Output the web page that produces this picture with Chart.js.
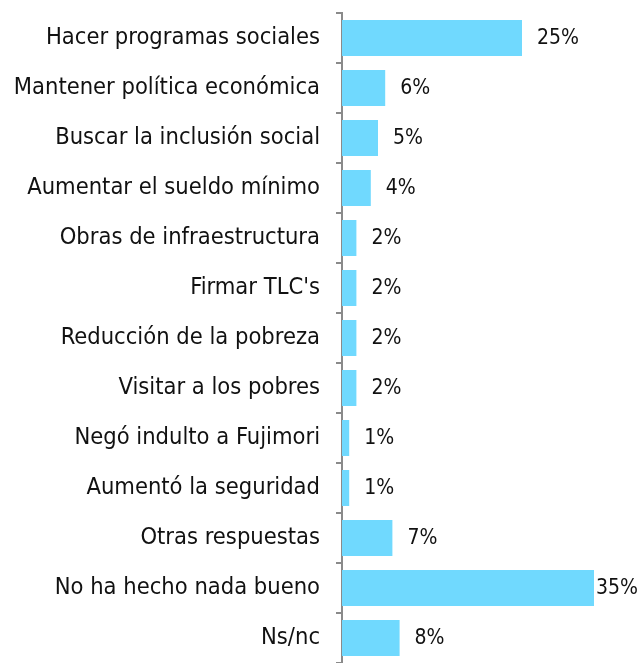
<!DOCTYPE html>
<html>
<head>
<meta charset="utf-8">
<script src="https://cdn.jsdelivr.net/npm/chart.js@4"></script>
<style>
  html, body { margin: 0; padding: 0; background: #ffffff; }
  #wrap { width: 640px; height: 663px; }
</style>
</head>
<body>
<div id="wrap"><canvas id="grafica"></canvas></div>
<script>
// Datos
const categorias = [
    'Hacer programas sociales',
    'Mantener política económica',
    'Buscar la inclusión social',
    'Aumentar el sueldo mínimo',
    'Obras de infraestructura',
    "Firmar TLC's",
    'Reducción de la pobreza',
    'Visitar a los pobres',
    'Negó indulto a Fujimori',
    'Aumentó la seguridad',
    'Otras respuestas',
    'No ha hecho nada bueno',
    'Ns/nc'
];
const valores = [25, 6, 5, 4, 2, 2, 2, 2, 1, 1, 7, 35, 8];

const fuente = "'DejaVu Sans Condensed', 'DejaVu Sans', sans-serif";

// Etiquetas de valor a la derecha de cada barra
const etiquetasValor = {
    id: 'etiquetasValor',
    afterDatasetsDraw(chart) {
        const ctx = chart.ctx;
        const meta = chart.getDatasetMeta(0);
        ctx.save();
        ctx.font = '21px ' + fuente;
        ctx.fillStyle = '#111111';
        ctx.textBaseline = 'middle';
        ctx.textAlign = 'left';
        meta.data.forEach(function(bar, i) {
            const texto = valores[i] + '%';
            const ancho = ctx.measureText(texto).width;
            let x = bar.x + 15;
            if (x + ancho > chart.width - 2) x = chart.width - 2 - ancho;
            ctx.fillText(texto, x, bar.y + 1);
        });
        ctx.restore();
    }
};

new Chart(document.getElementById('grafica').getContext('2d'), {
    type: 'bar',
    data: {
        labels: categorias,
        datasets: [{
            data: valores,
            backgroundColor: '#70D9FE',
            borderWidth: 0,
            barPercentage: 0.72,
            categoryPercentage: 1
        }]
    },
    options: {
        indexAxis: 'y',
        responsive: true,
        maintainAspectRatio: false,
        animation: false,
        layout: { padding: { top: 13, right: 10, bottom: 0, left: 0 } },
        plugins: {
            legend: { display: false },
            tooltip: { enabled: false }
        },
        scales: {
            x: {
                display: false,
                min: 0,
                max: 40
            },
            y: {
                afterFit: function(scale) {
                    scale.width = 342;
                    scale.paddingTop = 0;
                    scale.paddingBottom = 0;
                },
                border: { color: '#8a8a8a', width: 2 },
                grid: {
                    offset: true,
                    drawOnChartArea: false,
                    drawTicks: true,
                    tickLength: 6,
                    color: '#8a8a8a',
                    lineWidth: 2
                },
                ticks: {
                    padding: 16,
                    color: '#111111',
                    font: { family: fuente, size: 23.5 }
                }
            }
        }
    },
    plugins: [etiquetasValor]
});
</script>
</body>
</html>
